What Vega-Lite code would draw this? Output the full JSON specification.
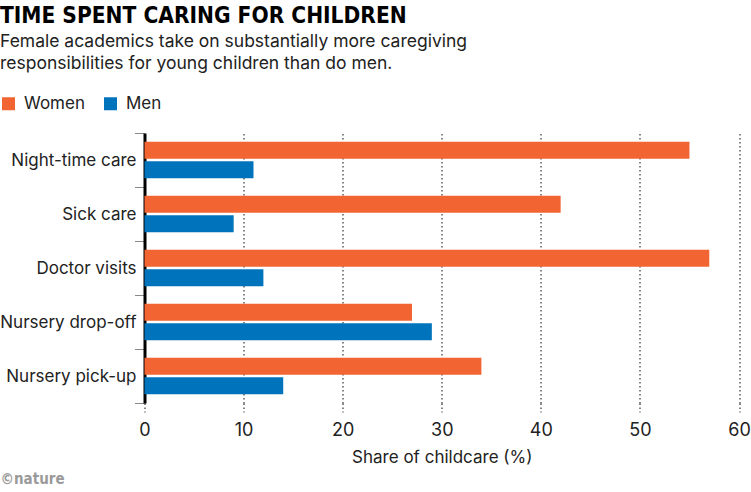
{
  "$schema": "https://vega.github.io/schema/vega-lite/v6.json",
  "background": "white",
  "autosize": {"type": "none"},
  "width": 594.5,
  "height": 270,
  "padding": {"left": 144.5, "top": 133, "right": 12, "bottom": 89},
  "title": {
    "text": "TIME SPENT CARING FOR CHILDREN",
    "subtitle": ["Female academics take on substantially more caregiving", "responsibilities for young children than do men."],
    "anchor": "start",
    "frame": "group",
    "dx": -144.5,
    "offset": 23,
    "font": "DejaVu Sans Condensed",
    "fontSize": 22.5,
    "fontWeight": "bold",
    "color": "#000000",
    "subtitleFont": "Inter",
    "subtitleFontSize": 17.5,
    "subtitleColor": "#222222",
    "subtitleLineHeight": 22,
    "subtitlePadding": 5
  },
  "data": {
    "values": [
      {"task": "Night-time care", "gender": "Women", "share": 55},
      {"task": "Night-time care", "gender": "Men", "share": 11},
      {"task": "Sick care", "gender": "Women", "share": 42},
      {"task": "Sick care", "gender": "Men", "share": 9},
      {"task": "Doctor visits", "gender": "Women", "share": 57},
      {"task": "Doctor visits", "gender": "Men", "share": 12},
      {"task": "Nursery drop-off", "gender": "Women", "share": 27},
      {"task": "Nursery drop-off", "gender": "Men", "share": 29},
      {"task": "Nursery pick-up", "gender": "Women", "share": 34},
      {"task": "Nursery pick-up", "gender": "Men", "share": 14}
    ]
  },
  "mark": {"type": "bar"},
  "encoding": {
    "y": {
      "field": "task", "type": "nominal", "sort": null,
      "scale": {"paddingInner": 0, "paddingOuter": 0},
      "axis": {
        "title": "©nature", "titleAngle": 0, "titleX": -144.5, "titleY": 345,
        "titleAlign": "left", "titleBaseline": "middle",
        "titleFont": "DejaVu Sans Condensed", "titleFontWeight": "bold",
        "titleFontSize": 15, "titleColor": "#9a9a9a",
        "domainColor": "#000000", "domainWidth": 3,
        "tickColor": "#888888", "tickSize": 10, "tickBand": "extent",
        "labelFont": "Inter", "labelFontSize": 17, "labelColor": "#222222",
        "labelPadding": -1.5, "grid": false
      }
    },
    "yOffset": {
      "field": "gender", "type": "nominal", "sort": ["Women", "Men"],
      "scale": {"paddingInner": 0.137, "paddingOuter": 0.439}
    },
    "x": {
      "field": "share", "type": "quantitative",
      "scale": {"domain": [0, 60], "nice": false},
      "axis": {
        "values": [0, 10, 20, 30, 40, 50, 60],
        "title": "Share of childcare (%)",
        "titleFont": "Inter", "titleFontSize": 17, "titleFontWeight": "normal",
        "titleColor": "#222222", "titlePadding": 10,
        "domain": false,
        "grid": true, "gridColor": "#333333", "gridDash": [1.5, 2.5], "gridWidth": 1.2,
        "tickColor": "#333333", "tickDash": [1.5, 2.5], "tickSize": 9, "tickWidth": 1.2,
        "labelFont": "Inter", "labelFontSize": 18, "labelColor": "#222222",
        "labelPadding": 9, "labelFlush": false
      }
    },
    "color": {
      "field": "gender", "type": "nominal",
      "scale": {"domain": ["Women", "Men"], "range": ["#F26532", "#0073BD"]},
      "legend": {
        "title": null, "orient": "none", "direction": "horizontal",
        "legendX": -144.5, "legendY": -38,
        "symbolType": "square", "symbolSize": 169, "symbolStrokeWidth": 0,
        "symbolOpacity": 1,
        "labelFont": "Inter", "labelFontSize": 17, "labelColor": "#222222",
        "labelOffset": 7, "columnPadding": 17
      }
    }
  },
  "config": {"view": {"stroke": null}}
}
